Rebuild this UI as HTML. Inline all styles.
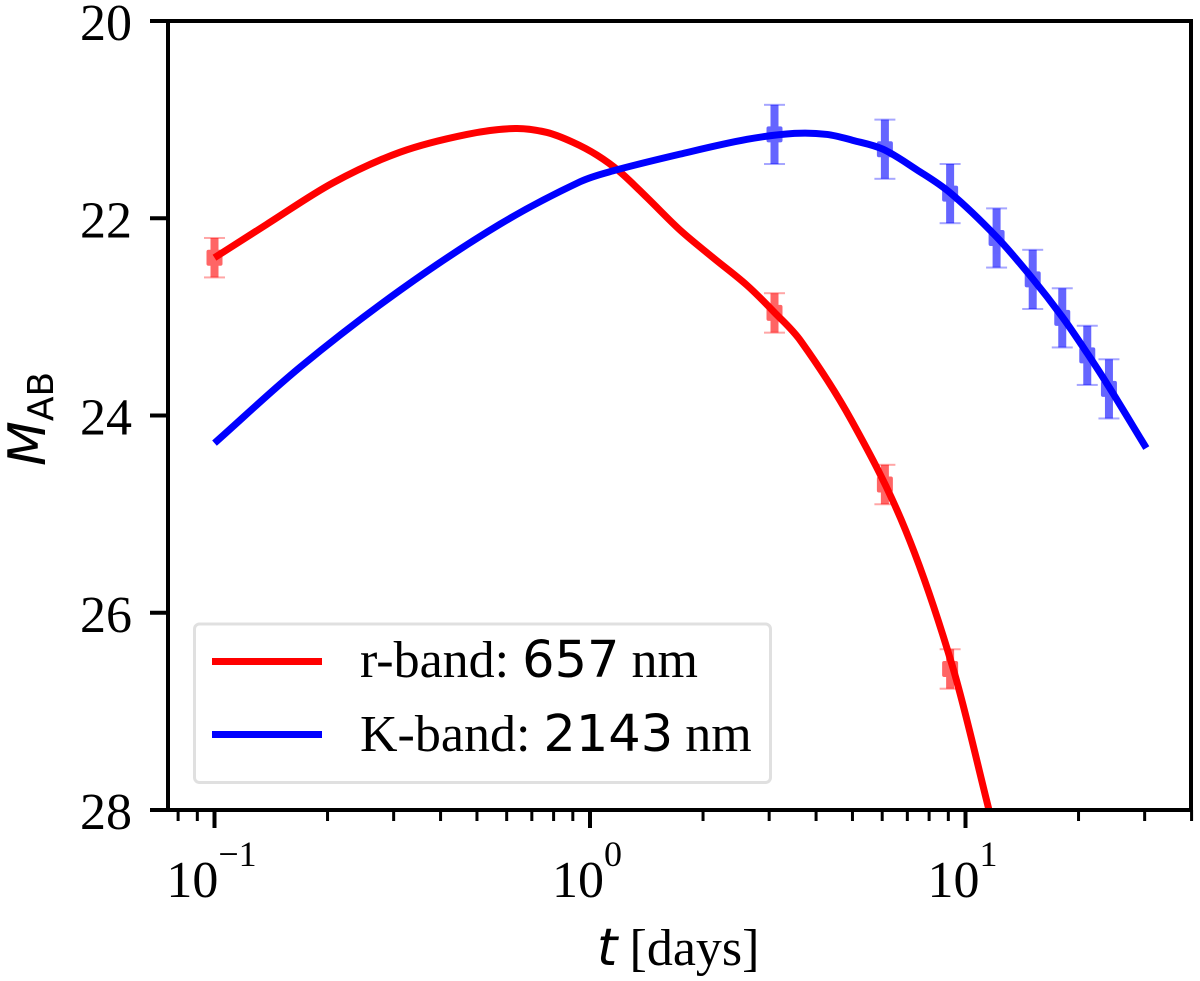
<!DOCTYPE html>
<html lang="en">
<head>
<meta charset="utf-8">
<title>Light curves</title>
<style>
html,body{margin:0;padding:0;background:#fff;}
svg{display:block;}
.serif{font-family:"Liberation Serif",serif;fill:#000;}
.dv{font-family:"DejaVu Sans",sans-serif;fill:#000;}
</style>
</head>
<body>
<svg id="chart" xmlns="http://www.w3.org/2000/svg" width="1200" height="981" viewBox="0 0 1200 981">
  <rect x="0" y="0" width="1200" height="981" fill="#fff"/>
  <g id="marks"></g>
  <g id="legend">
    <rect x="194.500" y="624" width="576" height="158.500" rx="5" fill="#fff" fill-opacity="0.8" stroke="#e0e0e0" stroke-width="3"/>
    <line x1="212" x2="322" y1="661.500" y2="661.500" stroke="#f00" stroke-width="7"/>
    <line x1="212" x2="322" y1="734.500" y2="734.500" stroke="#00f" stroke-width="7"/>
    <text class="serif" x="360" y="677" font-size="52">r-band: <tspan class="dv" font-size="51">657</tspan><tspan dx="-1"> nm</tspan></text>
    <text class="serif" x="360" y="751" font-size="52">K-band: <tspan class="dv" font-size="51">2143</tspan><tspan dx="-1"> nm</tspan></text>
  </g>
  <g id="axes"></g>
  <rect x="168" y="21" width="1023" height="789" fill="none" stroke="#000" stroke-width="4"/>
  <text y="965" class="serif" font-size="52"><tspan class="dv" font-style="italic" x="597">t</tspan><tspan x="629.500">[days]</tspan></text>
  <text transform="translate(45,466) rotate(-90)" class="dv" font-size="52"><tspan font-style="italic">M</tspan><tspan font-size="36" dy="8">AB</tspan></text>
</svg>
<script>
// Data
const rCurveT   = [0.1, 0.138, 0.207, 0.312, 0.470, 0.632, 0.768, 0.901, 1.044, 1.202, 1.418, 1.737, 2.127, 2.619, 3.09, 3.65, 4.97, 6.92, 9.26, 11.55, 11.9];
const rCurveMag = [22.40, 22.06, 21.64, 21.33, 21.15, 21.09, 21.13, 21.23, 21.36, 21.53, 21.79, 22.12, 22.40, 22.68, 22.95, 23.25, 24.05, 25.16, 26.56, 28.0, 28.2];
const kCurveT   = [0.1, 0.169, 0.312, 0.576, 0.941, 1.15, 1.737, 2.619, 3.5, 4.28, 5.01, 6.03, 7.43, 9.09, 12.1, 15.0, 18.1, 21.1, 24.1, 30.3];
const kCurveMag = [24.28, 23.51, 22.73, 22.06, 21.63, 21.52, 21.35, 21.20, 21.14, 21.15, 21.21, 21.30, 21.51, 21.74, 22.19, 22.60, 23.00, 23.37, 23.71, 24.33];
const rPointT   = [0.1, 3.1, 6.1, 9.1];
const rPointMag = [22.40, 22.96, 24.70, 26.57];
const rPointErr = [0.2, 0.2, 0.2, 0.2];
const kPointT   = [3.1, 6.1, 9.1, 12.1, 15.1, 18.1, 21.1, 24.1];
const kPointMag = [21.15, 21.30, 21.75, 22.20, 22.62, 23.01, 23.39, 23.73];
const kPointErr = [0.3, 0.3, 0.3, 0.3, 0.3, 0.3, 0.3, 0.3];
const yTicks = [20, 22, 24, 26, 28];
const xMajorExponents = [-1, 0, 1];
const xMinorTicks = [0.08, 0.09, 0.2, 0.3, 0.4, 0.5, 0.6, 0.7, 0.8, 0.9, 2, 3, 4, 5, 6, 7, 8, 9, 20, 30, 40];

const NS = 'http://www.w3.org/2000/svg';
function xScale(t) { return 590 + 375.5 * Math.log10(t); }
function yScale(m) { return 21 + (m - 20) * 98.625; }

function make(parent, tag, attrs) {
  const el = document.createElementNS(NS, tag);
  for (const k in attrs) el.setAttribute(k, attrs[k]);
  parent.appendChild(el);
  return el;
}

function curvePath(ts, ms) {
  const p = ts.map((t, i) => [xScale(t), yScale(ms[i])]);
  const slope = i => {
    const a = p[Math.max(i - 1, 0)], c = p[Math.min(i + 1, p.length - 1)];
    return (c[1] - a[1]) / (c[0] - a[0]);
  };
  let d = 'M' + p[0][0].toFixed(2) + ' ' + p[0][1].toFixed(2);
  for (let i = 0; i < p.length - 1; i++) {
    const b = p[i], c = p[i + 1], h = (c[0] - b[0]) / 3;
    const c1x = b[0] + h, c1y = b[1] + slope(i) * h;
    const c2x = c[0] - h, c2y = c[1] - slope(i + 1) * h;
    d += 'C' + c1x.toFixed(2) + ' ' + c1y.toFixed(2) + ' ' + c2x.toFixed(2) + ' ' + c2y.toFixed(2) + ' ' + c[0].toFixed(2) + ' ' + c[1].toFixed(2);
  }
  return d;
}

const marks = document.getElementById('marks');
const axes = document.getElementById('axes');

function drawPoints(ts, ms, es, color, band) {
  ts.forEach((t, i) => {
    const x = xScale(t), y = yScale(ms[i]), top = yScale(ms[i] - es[i]), bot = yScale(ms[i] + es[i]);
    const g = make(marks, 'g', { fill: color, stroke: 'none' });
    
    
    const body = make(g, 'g', { opacity: 0.6 });
    make(body, 'rect', { x: x - 4, y: top, width: 8, height: bot - top });
    make(body, 'rect', { x: x - 8, y: y - 8, width: 16, height: 16, rx: 2 });
    make(g, 'rect', { x: x - 10.500, y: top - 1, width: 21, height: 2, opacity: 0.35 });
    make(g, 'rect', { x: x - 10.500, y: bot - 1, width: 21, height: 2, opacity: 0.35 });
  });
}

drawPoints(rPointT, rPointMag, rPointErr, '#f00', 'r-band');
drawPoints(kPointT, kPointMag, kPointErr, '#00f', 'k-band');

const clip = make(marks, 'clipPath', { id: 'plot-clip' });
make(clip, 'rect', { x: 168, y: 21, width: 1023, height: 789 });

const rLine = make(marks, 'path', { d: curvePath(rCurveT, rCurveMag), fill: 'none', stroke: '#f00', 'stroke-width': 7, 'clip-path': 'url(#plot-clip)' });


const kLine = make(marks, 'path', { d: curvePath(kCurveT, kCurveMag), fill: 'none', stroke: '#00f', 'stroke-width': 7 });



yTicks.forEach(v => {
  const y = yScale(v);
  const tick = make(axes, 'line', { x1: 150, x2: 168, y1: y, y2: y, stroke: '#000', 'stroke-width': 4 });
  
  
  const label = make(axes, 'text', { x: 132, y: y + 19, 'text-anchor': 'end', 'font-size': 52, class: 'serif' });
  label.textContent = v;
  
  
});

xMajorExponents.forEach(exp => {
  const x = xScale(Math.pow(10, exp));
  const tick = make(axes, 'line', { x1: x, x2: x, y1: 810, y2: 828, stroke: '#000', 'stroke-width': 4 });
  
  
  const label = make(axes, 'text', { x: x - 3, y: 897, 'font-size': 52, 'text-anchor': 'middle', class: 'serif' });
  
  
  label.appendChild(document.createTextNode('10'));
  const sup = make(label, 'tspan', { dy: -31, 'font-size': 36 });
  sup.textContent = String(exp).replace('-', '\u2212');
});

xMinorTicks.forEach(t => {
  const x = xScale(t);
  const tick = make(axes, 'line', { x1: x, x2: x, y1: 810, y2: 821, stroke: '#000', 'stroke-width': 3 });
  
  
});
</script>
</body>
</html>
